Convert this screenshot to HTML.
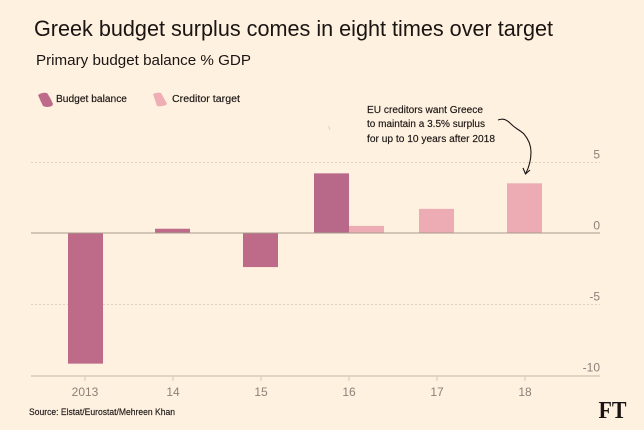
<!DOCTYPE html>
<html>
<head>
<meta charset="utf-8">
<style>
html,body{margin:0;padding:0;background:#fff1e0;}
svg{display:block;}
text{font-family:"Liberation Sans",sans-serif;}
</style>
</head>
<body>
<svg id="chart" width="644" height="430" viewBox="0 0 644 430" xmlns="http://www.w3.org/2000/svg">
  <rect x="0" y="0" width="644" height="430" fill="#fff1e0"/>
  <text x="34" y="36" font-size="22.5" fill="#1a1513" textLength="519" lengthAdjust="spacingAndGlyphs">Greek budget surplus comes in eight times over target</text>
  <text x="36" y="65" font-size="15" fill="#1a1513" textLength="215" lengthAdjust="spacingAndGlyphs">Primary budget balance % GDP</text>

  <g>
    <path d="M38 95 Q42 92 47 93 Q50 97 53 104 L52 106 Q47 108 43 106 Q40 100 38 95Z" fill="#bd6b88"/>
    <text x="56" y="102" font-size="10" fill="#1a1513" stroke="#1a1513" stroke-width="0.15" textLength="71" lengthAdjust="spacingAndGlyphs">Budget balance</text>
    <path d="M153 94 Q157 92 161 93 Q164 98 167 104 L166 105 Q161 107 157 106 Q155 100 153 94Z" fill="#eeaeb4"/>
    <text x="172" y="102" font-size="10" fill="#1a1513" stroke="#1a1513" stroke-width="0.15" textLength="68" lengthAdjust="spacingAndGlyphs">Creditor target</text>
  </g>

  <g id="gridlines"></g>
  <g id="bars"></g>
  <g id="axes"></g>

  <g>
    <text x="367" y="113" font-size="10" fill="#1a1513" stroke="#1a1513" stroke-width="0.15" textLength="116" lengthAdjust="spacingAndGlyphs">EU creditors want Greece</text>
    <text x="367" y="127" font-size="10" fill="#1a1513" stroke="#1a1513" stroke-width="0.15" textLength="118" lengthAdjust="spacingAndGlyphs">to maintain a 3.5% surplus</text>
    <text x="367" y="142" font-size="10" fill="#1a1513" stroke="#1a1513" stroke-width="0.15" textLength="128" lengthAdjust="spacingAndGlyphs">for up to 10 years after 2018</text>
    <path d="M498 120 C504 118 507 120 511 124 C516 129 520 130 524 134 C529 140 531 146 531 152 C531 160 529 167 526 173" fill="none" stroke="#1a1513" stroke-width="1.1"/>
    <path d="M523 168 L525.5 174 L530 170" fill="none" stroke="#1a1513" stroke-width="1.1"/>
  </g>
  <line x1="328.5" y1="126" x2="330" y2="130" stroke="#d9cbb9" stroke-width="0.8"/>

  <text x="29" y="415" font-size="9.5" fill="#1a1513" stroke="#1a1513" stroke-width="0.15" textLength="146" lengthAdjust="spacingAndGlyphs">Source: Elstat/Eurostat/Mehreen Khan</text>
  <text x="598.5" y="418" font-size="24" font-weight="bold" fill="#1a1513" style="font-family:'Liberation Serif',serif" textLength="28" lengthAdjust="spacingAndGlyphs">FT</text>
</svg>
<script>
var categories = ['2013', '14', '15', '16', '17', '18'];
var budgetBalance = [-9.2, 0.3, -2.4, 4.2, null, null];
var creditorTarget = [null, null, null, 0.5, 1.7, 3.5];
var yTickValues = [5, 0, -5, -10];
var yTickLabels = ['5', '0', '-5', '-10'];

var svgNS = 'http://www.w3.org/2000/svg';
function yScale(v) { return 233 - v * 14.2; }
function xTick(i) { return 85 + i * 88; }
function xBar(i) { return 85 + i * 87.8; }
var barWidth = 35;
function make(parent, tag, attrs) {
  var el = document.createElementNS(svgNS, tag);
  for (var k in attrs) { el.setAttribute(k, attrs[k]); }
  parent.appendChild(el);
  return el;
}

var gridG = document.getElementById('gridlines');
var barsG = document.getElementById('bars');
var axesG = document.getElementById('axes');

yTickValues.forEach(function (v, i) {
  var y = yScale(v);
  if (v === 5 || v === -5) {
    var grid = make(gridG, 'line', { x1: 31, x2: 600, y1: Math.round(y) + 0.5, y2: Math.round(y) + 0.5, stroke: '#ddd2c2', 'stroke-width': 1, 'stroke-dasharray': '2 2' });
    
    
  }
  var label = make(axesG, 'text', { x: 600, y: y - 3.5, 'text-anchor': 'end', 'font-size': 12, fill: '#8a8178' });
  label.textContent = yTickLabels[i];
  
  
});

function drawBar(value, x, color, name) {
  var y0 = yScale(0);
  var y1 = yScale(value);
  var bar = make(barsG, 'rect', { x: Math.round(x), y: Math.min(y0, y1), width: barWidth, height: Math.abs(y1 - y0), fill: color });
  
  
}

categories.forEach(function (c, i) {
  var hasB = budgetBalance[i] !== null;
  var hasT = creditorTarget[i] !== null;
  var paired = hasB && hasT;
  var cx = paired ? xTick(i) : xBar(i);
  if (hasB) {
    drawBar(budgetBalance[i], paired ? cx - barWidth : cx - barWidth / 2, i === 3 ? '#b8698a' : '#bd6b88', 'bar-budget-balance');
  }
  if (hasT) {
    drawBar(creditorTarget[i], paired ? cx : cx - barWidth / 2, '#edabb3', 'bar-creditor-target');
  }
  var tx = xTick(i);
  var tick = make(axesG, 'line', { x1: tx, x2: tx, y1: 376, y2: 381, stroke: '#d9cbb9', 'stroke-width': 1 });
  
  
  var label = make(axesG, 'text', { x: tx, y: 396, 'text-anchor': 'middle', 'font-size': 12, fill: '#8a8178' });
  label.textContent = c;
  
  
});

var zero = make(axesG, 'line', { x1: 31, x2: 600, y1: yScale(0), y2: yScale(0), stroke: '#a89b8c', 'stroke-width': 1 });


var base = make(axesG, 'line', { x1: 31, x2: 600, y1: 376, y2: 376, stroke: '#d9cbb9', 'stroke-width': 1.5 });


</script>
</body>
</html>
